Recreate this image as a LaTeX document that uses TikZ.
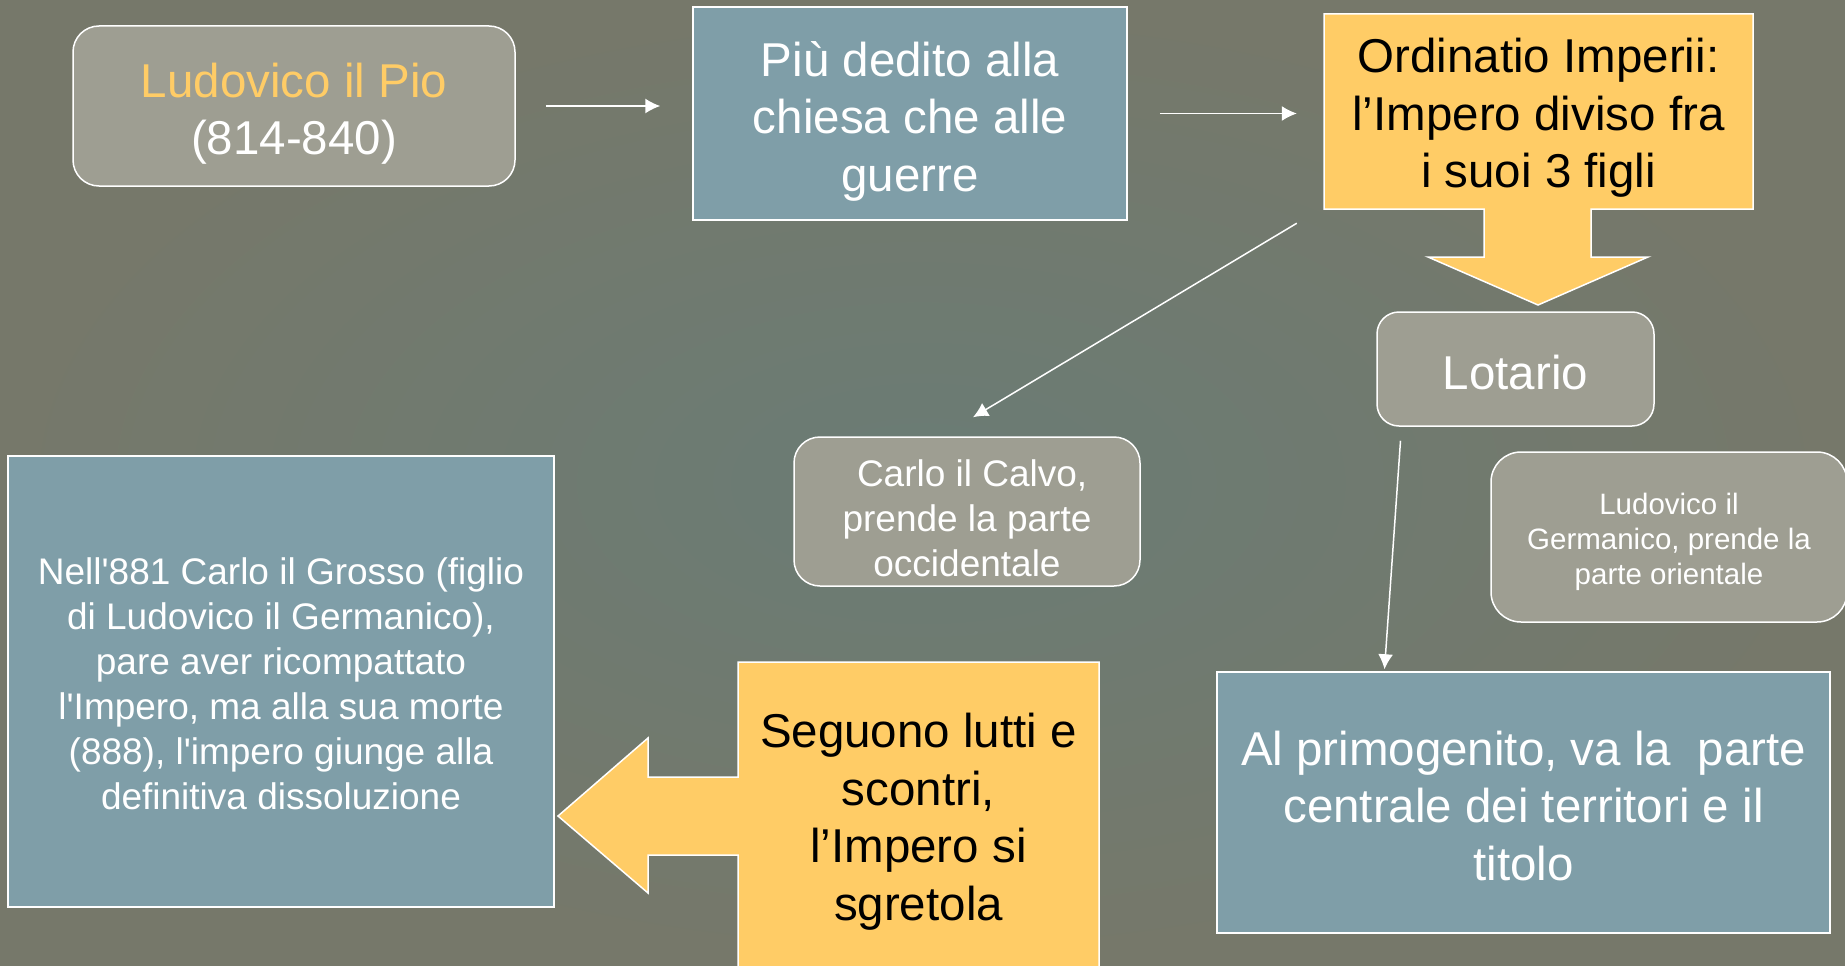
\documentclass[tikz,border=0pt]{standalone}
\usepackage{fontspec}
\setmainfont{Liberation Sans}
\usetikzlibrary{arrows.meta}

\definecolor{bgcol}{RGB}{118,120,106}
\definecolor{bgteal}{RGB}{106,124,117}
\definecolor{greybox}{RGB}{158,158,146}
\definecolor{bluebox}{RGB}{127,158,168}
\definecolor{yelbox}{RGB}{255,204,102}

% struts for the first and the last line of a box text
\newcommand{\boxtop}{\rule{0pt}{1.15em}}
\newcommand{\boxbot}{\rule[-0.3em]{0pt}{0.3em}}

\begin{document}
\begin{tikzpicture}[x=1pt,y=-1pt,
    greynode/.style={draw=white,line width=1.5pt,fill=greybox,rounded corners=26pt,text=white,align=center,inner sep=0pt},
    bluenode/.style={draw=white,line width=1.5pt,fill=bluebox,text=white,align=center,inner sep=0pt},
    yelnode/.style={text=black,align=center,inner sep=0pt},
    yelarrow/.style={draw=white,line width=1.5pt,fill=yelbox},
    conn/.style={draw=white,line width=1.5pt,-{Latex[length=15pt,width=15pt]}},
    bigtext/.style={font=\fontsize{47.5}{57.5}\selectfont},
    midtext/.style={font=\fontsize{37}{45}\selectfont},
    smalltext/.style={font=\fontsize{29.5}{35}\selectfont}]

    \useasboundingbox (0,0) rectangle (1845,966);
    \clip (0,0) rectangle (1845,966);

    % background
    \fill[bgcol] (0,0) rectangle (1845,966);
    \shade[inner color=bgteal,outer color=bgcol] (0,0) rectangle (1845,966);

    % block arrows
    \filldraw[yelarrow] (1324,14) -- (1753,14) -- (1753,209) -- (1591,209) -- (1591,257)
        -- (1648,257) -- (1538,305) -- (1428,257) -- (1484,257) -- (1484,209) -- (1324,209) -- cycle;
    \filldraw[yelarrow] (738,662) -- (1099,662) -- (1099,980) -- (738,980) -- (738,855)
        -- (648,855) -- (648,893) -- (558,816) -- (648,738) -- (648,777) -- (738,777) -- cycle;

    % top row
    \node[greynode,bigtext,minimum width=442pt,minimum height=160pt] (pio) at (294,106)
        {\boxtop\textcolor{yelbox}{Ludovico il Pio}\\(814-840)\boxbot};
    \node[bluenode,bigtext,minimum width=434pt,minimum height=213pt] (dedito) at (910,113.5)
        {\boxtop Più dedito alla\\chiesa che alle\\guerre\boxbot};
    \node[yelnode,bigtext,minimum width=429pt,minimum height=195pt] (ordin) at (1538.5,110)
        {\boxtop Ordinatio Imperii:\\l’Impero diviso fra\\i suoi 3 figli\boxbot};

    % the three sons
    \node[greynode,bigtext,rounded corners=22pt,minimum width=277pt,minimum height=114pt] (lotario) at (1515.5,369)
        {\boxtop Lotario\boxbot};
    \node[greynode,midtext,minimum width=346pt,minimum height=149pt] (carlo) at (967,511.5)
        {\rule{0pt}{1.1em}\ Carlo il Calvo,\\prende la parte\\occidentale};
    \node[greynode,smalltext,rounded corners=30pt,minimum width=356pt,minimum height=170pt] (german) at (1669,537)
        {\boxtop Ludovico il\\Germanico, prende la\\parte orientale\boxbot};

    % bottom row
    \node[bluenode,midtext,minimum width=546pt,minimum height=451pt] (nell) at (281,681.5)
        {\boxtop Nell\textquotesingle 881 Carlo il Grosso (figlio\\di Ludovico il Germanico),\\pare aver ricompattato\\l\textquotesingle Impero, ma alla sua morte\\(888), l\textquotesingle impero giunge alla\\definitiva dissoluzione\boxbot};
    \node[yelnode,bigtext,minimum width=361pt,minimum height=304pt] (seguono) at (918.5,814)
        {\boxtop Seguono lutti e\\scontri,\\l’Impero si\\sgretola\boxbot};
    \node[bluenode,bigtext,minimum width=613pt,minimum height=261pt] (primo) at (1523.5,802.5)
        {\boxtop Al primogenito, va la\ \ parte\\centrale dei territori e il\\titolo\boxbot};

    % connectors
    \draw[conn] ([xshift=30pt]pio.east) -- ([xshift=-32pt]pio.east -| dedito.west);
    \draw[conn] ([xshift=32pt]dedito.east) -- ([xshift=-27pt]dedito.east -| ordin.west);
    \draw[conn] ([shift={(-27,15.5)}]ordin.south west) -- ([shift={(6,-19)}]carlo.north);
    \draw[conn] ([shift={(-115,14)}]lotario.south) -- ([shift={(-139,-2)}]primo.north);
\end{tikzpicture}
\end{document}
